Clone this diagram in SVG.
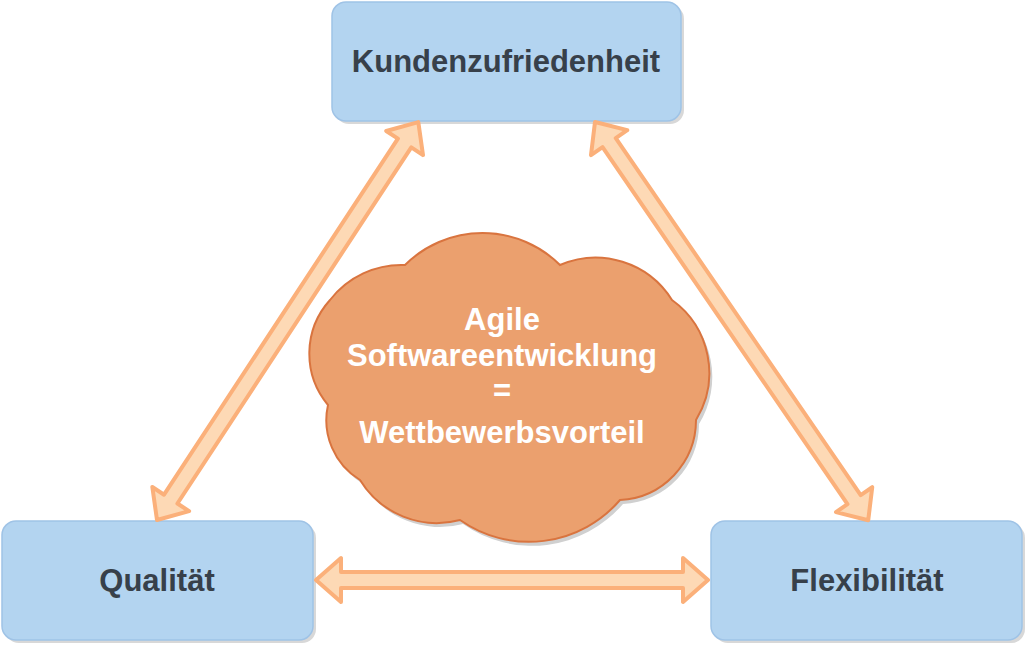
<svg xmlns="http://www.w3.org/2000/svg" width="1026" height="645" viewBox="0 0 1026 645">
<style>
.box{fill:#b3d4f0;stroke:#9fc3e6;stroke-width:1.5}
.shadow{fill:#d8d8d8}
.lbl{font-family:"Liberation Sans",Arial,sans-serif;font-weight:bold;font-size:31px;fill:#37404a;text-anchor:middle}
.cl{font-family:"Liberation Sans",Arial,sans-serif;font-weight:bold;font-size:31px;fill:#ffffff;text-anchor:middle}
.arr{fill:#fdd9b5;stroke:#fbb07a;stroke-width:4;stroke-linejoin:round}
</style>
<rect width="1026" height="645" fill="#fff"/>
<g id="node-kunden"><rect class="shadow" x="335" y="5" width="349" height="119" rx="14"/><rect class="box" x="332" y="2" width="349" height="119" rx="14"/><text class="lbl" x="506" y="72">Kundenzufriedenheit</text></g>
<g id="node-qualitaet"><rect class="shadow" x="5" y="524" width="311" height="119" rx="14"/><rect class="box" x="2" y="521" width="311" height="119" rx="14"/><text class="lbl" x="157" y="591">Qualität</text></g>
<g id="node-flex"><rect class="shadow" x="714" y="524" width="311" height="119" rx="14"/><rect class="box" x="711" y="521" width="311" height="119" rx="14"/><text class="lbl" x="867" y="591">Flexibilität</text></g>
<g id="node-cloud">
<path d="M 360 480 A 70 70 0 0 1 328 405 A 80 80 0 0 1 330 300 A 90 90 0 0 1 405 265 A 110 110 0 0 1 560 265 A 90 90 0 0 1 672 300 A 90 90 0 0 1 696 420 A 80 80 0 0 1 620 500 A 120 120 0 0 1 460 520 A 90 90 0 0 1 360 480 Z" fill="#d0d0d0" transform="translate(3,4)"/>
<path d="M 360 480 A 70 70 0 0 1 328 405 A 80 80 0 0 1 330 300 A 90 90 0 0 1 405 265 A 110 110 0 0 1 560 265 A 90 90 0 0 1 672 300 A 90 90 0 0 1 696 420 A 80 80 0 0 1 620 500 A 120 120 0 0 1 460 520 A 90 90 0 0 1 360 480 Z" fill="#eba06e" stroke="#d9743f" stroke-width="2"/>
<text class="cl" x="502" y="330">Agile</text>
<text class="cl" x="502" y="366">Softwareentwicklung</text>
<text class="cl" x="502" y="401">=</text>
<text class="cl" x="502" y="443">Wettbewerbsvorteil</text>
</g>
<g id="connectors">
<path class="arr" transform="translate(316,580)" d="M0 0 L25 -22 L25 -8 L367 -8 L367 -22 L392 0 L367 22 L367 8 L25 8 L25 22 Z"/>
<path class="arr" transform="translate(157,520) rotate(-56.7)" d="M0 0 L25 -22 L25 -8 L451 -8 L451 -22 L476 0 L451 22 L451 8 L25 8 L25 22 Z"/>
<path class="arr" transform="translate(595,122) rotate(55.55)" d="M0 0 L25 -22 L25 -8 L458 -8 L458 -22 L483 0 L458 22 L458 8 L25 8 L25 22 Z"/>
</g>
</svg>
